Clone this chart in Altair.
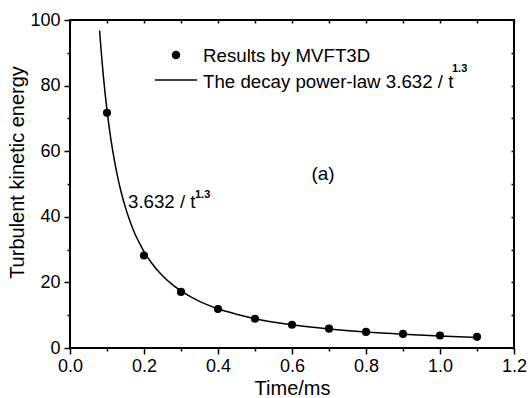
import altair as alt
import pandas as pd

# measured points (Results by MVFT3D)
time_ms = [0.1, 0.2, 0.3, 0.4, 0.5, 0.6, 0.7, 0.8, 0.9, 1.0, 1.1]
energy = [71.7, 28.2, 17.1, 11.9, 8.9, 7.1, 5.9, 4.9, 4.3, 3.8, 3.4]

# decay power-law curve 3.632 / t^1.3
curve_t = [0.08, 0.085, 0.09, 0.095, 0.10, 0.105, 0.11, 0.12, 0.13, 0.14, 0.15, 0.16,
           0.17, 0.18, 0.19, 0.20, 0.22, 0.25, 0.28, 0.30, 0.35, 0.40, 0.45, 0.50,
           0.60, 0.70, 0.80, 0.90, 1.00, 1.10]
curve_k = [96.8, 89.5, 83.1, 77.5, 72.5, 68.0, 64.0, 57.2, 51.5, 46.8, 42.8, 39.3,
           36.3, 33.7, 31.5, 29.4, 26.0, 22.0, 19.0, 17.4, 14.2, 11.95, 10.3, 8.95,
           7.06, 5.78, 4.85, 4.17, 3.63, 3.21]

x_ticks = [0.0, 0.1, 0.2, 0.3, 0.4, 0.5, 0.6, 0.7, 0.8, 0.9, 1.0, 1.1, 1.2]
y_ticks = [0, 10, 20, 30, 40, 50, 60, 70, 80, 90, 100]

FONT = "Liberation Sans"

curve_df = pd.DataFrame({"t": curve_t, "k": curve_k})
pts_df = pd.DataFrame({"t": time_ms, "k": energy})

xscale = alt.Scale(domain=[0, 1.2], nice=False, zero=False)
yscale = alt.Scale(domain=[0, 100], nice=False, zero=False)

x_main = alt.Axis(
    orient="bottom", values=x_ticks, grid=False, domain=False,
    labelExpr="round(datum.value*10) % 2 == 0 ? format(datum.value, '.1f') : ''",
    tickSize={"condition": {"test": "round(datum.value*10) % 2 == 0", "value": 6}, "value": 3},
    tickWidth=1.5, tickColor="black", labelColor="black", labelFont=FONT,
    labelFontSize=18, labelPadding=3, labelOverlap=False, labelFlush=False,
    title="Time/ms", titleFont=FONT, titleFontSize=20, titleFontWeight="normal",
    titleColor="black", titleBaseline="alphabetic", titleY=46,
)
y_main = alt.Axis(
    orient="left", values=y_ticks, grid=False, domain=False,
    labelExpr="round(datum.value/10) % 2 == 0 ? format(datum.value, '.0f') : ''",
    tickSize={"condition": {"test": "round(datum.value/10) % 2 == 0", "value": 6}, "value": 3},
    tickWidth=1.5, tickColor="black", labelColor="black", labelFont=FONT,
    labelFontSize=18, labelPadding=4, labelOverlap=False, labelFlush=False,
    title="Turbulent kinetic energy", titleFont=FONT, titleFontSize=20,
    titleFontWeight="normal", titleColor="black", titleBaseline="alphabetic",
    titleX=-47, titleY=152, titleAngle=270,
)
x_top = alt.Axis(orient="top", values=x_ticks, grid=False, domain=False, labels=False,
                 tickSize=3, offset=-3, tickWidth=1.5, tickColor="black", title=None)
y_right = alt.Axis(orient="right", values=y_ticks, grid=False, domain=False, labels=False,
                   tickSize=3, offset=-3, tickWidth=1.5, tickColor="black", title=None)

curve = alt.Chart(curve_df).mark_line(color="black", strokeWidth=1.5, interpolate="monotone").encode(
    x=alt.X("t:Q", scale=xscale, axis=x_main),
    y=alt.Y("k:Q", scale=yscale, axis=y_main),
)
points = alt.Chart(pts_df).mark_circle(color="black", opacity=1, size=66).encode(
    x=alt.X("t:Q", scale=xscale, axis=x_top),
    y=alt.Y("k:Q", scale=yscale, axis=y_right),
)

txt = dict(font=FONT, color="black", baseline="alphabetic", align="left")

leg_dot = alt.Chart().mark_circle(color="black", opacity=1, size=72).encode(
    x=alt.value(106), y=alt.value(35))
leg_line = alt.Chart().mark_rule(color="black", strokeWidth=1.5).encode(
    x=alt.value(85), x2=alt.value(127), y=alt.value(60))
leg_t1 = alt.Chart().mark_text(fontSize=18.7, **txt).encode(
    x=alt.value(133), y=alt.value(42), text=alt.value("Results by MVFT3D"))
leg_t2 = alt.Chart().mark_text(fontSize=18.7, **txt).encode(
    x=alt.value(133), y=alt.value(68), text=alt.value("The decay power-law 3.632 / t"))
leg_sup = alt.Chart().mark_text(fontSize=11, fontWeight="bold", **txt).encode(
    x=alt.value(382), y=alt.value(52), text=alt.value("1.3"))
ann_a = alt.Chart().mark_text(fontSize=19, font=FONT, color="black", align="center",
                              baseline="alphabetic").encode(
    x=alt.value(253), y=alt.value(160), text=alt.value("(a)"))
ann_f = alt.Chart().mark_text(fontSize=18.7, **txt).encode(
    x=alt.value(58), y=alt.value(188), text=alt.value("3.632 / t"))
ann_sup = alt.Chart().mark_text(fontSize=11, fontWeight="bold", **txt).encode(
    x=alt.value(125), y=alt.value(178), text=alt.value("1.3"))

chart = alt.layer(
    curve, points, leg_dot, leg_line, leg_t1, leg_t2, leg_sup, ann_a, ann_f, ann_sup
).resolve_axis(x="independent", y="independent").properties(
    width=444, height=328,
    autosize=alt.AutoSizeParams(type="none"),
    padding={"left": 70, "top": 20, "right": 14, "bottom": 50},
    background="white",
).configure_view(stroke="black", strokeWidth=2)

chart.save("out.html", embed_options={"renderer": "svg", "actions": False})
